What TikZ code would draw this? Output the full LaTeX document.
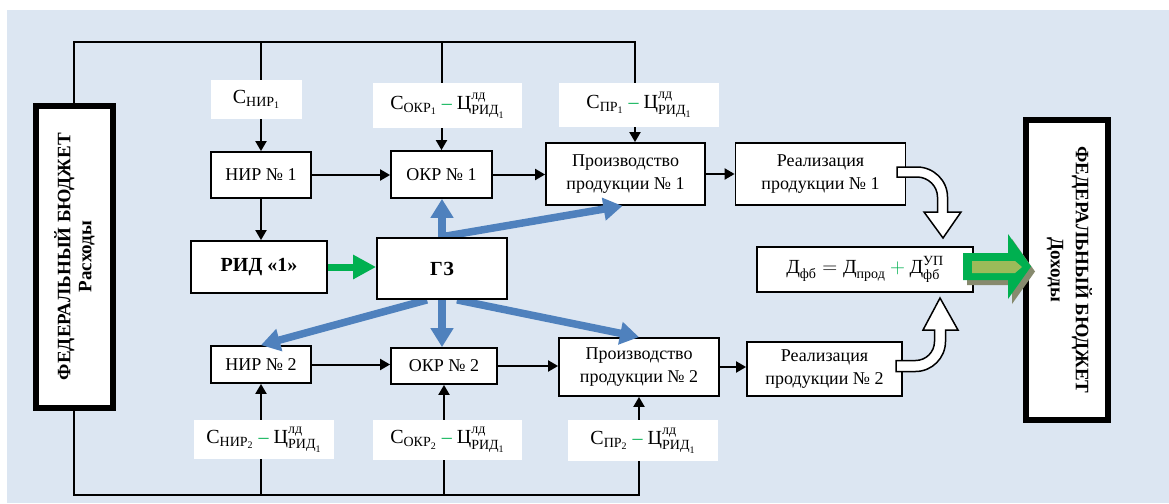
\documentclass[tikz,border=0pt]{standalone}
\usepackage{amsmath}
\usepackage{fontspec}
\setmainfont{Liberation Serif}
\usetikzlibrary{arrows.meta}
\definecolor{bgc}{RGB}{220,230,242}
\definecolor{gz}{RGB}{79,129,189}
\definecolor{gr}{RGB}{0,176,80}
\definecolor{olv}{RGB}{155,187,89}
\definecolor{shd}{RGB}{135,138,110}
\newcommand{\tx}[1]{\text{#1}}
\begin{document}
\begin{tikzpicture}[x=1pt,y=-1pt,
  box/.style={draw=black,line width=1.8pt,fill=white,inner sep=0pt,align=center,
    font=\fontsize{18}{23}\selectfont},
  bbox/.style={box,font=\fontsize{20}{24}\selectfont\bfseries},
  lbl/.style={fill=white,inner sep=0pt,align=center,font=\fontsize{20}{22}\selectfont},
  fb/.style={draw=black,line width=6pt,fill=white,inner sep=0pt},
  wire/.style={draw=black,line width=2pt},
  arr/.style={wire,-{Triangle[length=10pt,width=11pt]}},
  barr/.style={draw=gz,line width=7.5pt,-{Triangle[length=19pt,width=22pt]}},
  garr/.style={draw=gr,line width=7pt,-{Triangle[length=23pt,width=23pt]}},
  warr/.style={draw=black,line width=1.5pt,fill=white,line join=miter}
]
\useasboundingbox (0,0) rectangle (1169,503);
\fill[bgc] (7,10) rectangle (1169,503);

% budgets
\node[fb,minimum width=77pt,minimum height=302pt] (fbL) at (74.5,257) {};
\node[rotate=90,align=center,font=\fontsize{19}{21}\selectfont\bfseries] (fbLtxt) at (74.5,256.5) {ФЕДЕРАЛЬНЫЙ БЮДЖЕТ\\Расходы};
\node[fb,minimum width=82pt,minimum height=300pt] (fbR) at (1067,270) {};
\node[rotate=-90,align=center,font=\fontsize{19}{25}\selectfont\bfseries] (fbRtxt) at (1069.5,270) {ФЕДЕРАЛЬНЫЙ БЮДЖЕТ\\Доходы};

% boxes touched by blue arrows
\node[bbox,minimum width=130pt,minimum height=61pt] (bGZ) at (442,268.5) {ГЗ};
\node[box,minimum width=101pt,minimum height=47pt] (bOKR1) at (441.5,174.5) {ОКР № 1};
\node[box,minimum width=159pt,minimum height=62pt] (bPR1) at (625.5,174) {Производство\\продукции № 1};
\node[box,minimum width=100pt,minimum height=37pt] (bNIR2) at (261,364.5) {НИР № 2};
\node[box,minimum width=106pt,minimum height=36pt] (bOKR2) at (444,366) {ОКР № 2};
\node[box,minimum width=160pt,minimum height=58pt] (bPR2) at (639,367) {Производство\\продукции № 2};

% blue arrows
\draw[barr] (bGZ.north) -- (bGZ.north |- bOKR1.south);
\draw[barr] ([xshift=-2pt]bGZ.north) -- ([xshift=-3pt]bPR1.south);
\draw[barr] ([xshift=-15pt]bGZ.south) -- (bNIR2.north);
\draw[barr] (bGZ.south) -- (bGZ.south |- bOKR2.north);
\draw[barr] ([xshift=15pt]bGZ.south) -- (bPR2.north);

% boxes on top
\node[bbox,minimum width=130pt,minimum height=61pt] (bGZtop) at (bGZ) {ГЗ};
\node[box,minimum width=100pt,minimum height=46pt] (bNIR1) at (261,175) {НИР № 1};
\node[box,minimum width=170pt,minimum height=62pt] (bR1) at (820.5,174) {Реализация\\продукции № 1};
\node[bbox,minimum width=136pt,minimum height=52pt] (bRID) at (259,267) {РИД «1»};
\node[box,minimum width=216pt,minimum height=45pt,font=\fontsize{20}{22}\selectfont] (bF) at (865,269.5)
  {$\tx{Д}_{\tx{фб}} = \tx{Д}_{\tx{прод}} \mathbin{\color{gr}+} \tx{Д}^{\tx{УП}}_{\tx{фб}}$};
\node[box,minimum width=155pt,minimum height=54pt] (bR2) at (824.5,369) {Реализация\\продукции № 2};

% labels
\node[lbl,minimum width=91pt,minimum height=39pt] (lNIR1) at (256.5,99.5) {$\tx{С}_{\tx{НИР}_{\tx{1}}}$};
\node[lbl,minimum width=149pt,minimum height=45pt] (lOKR1) at (447.5,105.5)
  {$\tx{С}_{\tx{ОКР}_{\tx{1}}}$\ \textcolor{gr}{–}\ $\tx{Ц}^{\tx{лд}}_{\tx{РИД}_{\tx{1}}}$};
\node[lbl,minimum width=160pt,minimum height=44pt] (lPR1) at (639,105)
  {$\tx{С}_{\tx{ПР}_{\tx{1}}}$\ \textcolor{gr}{–}\ $\tx{Ц}^{\tx{лд}}_{\tx{РИД}_{\tx{1}}}$};
\node[lbl,minimum width=140pt,minimum height=39pt] (lNIR2) at (264,439.5)
  {$\tx{С}_{\tx{НИР}_{\tx{2}}}$ \textcolor{gr}{–} $\tx{Ц}^{\tx{лд}}_{\tx{РИД}_{\tx{1}}}$};
\node[lbl,minimum width=149pt,minimum height=40pt] (lOKR2) at (447.5,440)
  {$\tx{С}_{\tx{ОКР}_{\tx{2}}}$\ \textcolor{gr}{–}\ $\tx{Ц}^{\tx{лд}}_{\tx{РИД}_{\tx{1}}}$};
\node[lbl,minimum width=150pt,minimum height=41pt] (lPR2) at (643,440.5)
  {$\tx{С}_{\tx{ПР}_{\tx{2}}}$\ \textcolor{gr}{–}\ $\tx{Ц}^{\tx{лд}}_{\tx{РИД}_{\tx{1}}}$};

% wires
\coordinate (tl) at (74,42);
\coordinate (tr) at (635,42);
\coordinate (bl) at (74,495);
\coordinate (br) at (639,495);
\draw[wire] (fbL.north -| tl) -- (tl) -- (tr) -- (tr |- lPR1.north);
\draw[wire] (bNIR1.north |- tl) -- (bNIR1.north |- lNIR1.north);
\draw[wire] (bOKR1.north |- tl) -- (bOKR1.north |- lOKR1.north);
\draw[arr] (bNIR1.north |- lNIR1.south) -- (bNIR1.north);
\draw[arr] (bOKR1.north |- lOKR1.south) -- (bOKR1.north);
\draw[arr] (tr |- lPR1.south) -- (tr |- bPR1.north);

\draw[wire] (fbL.south -| bl) -- (bl) -- (br) -- (br |- lPR2.south);
\draw[wire] (bNIR2.south |- bl) -- (bNIR2.south |- lNIR2.south);
\draw[wire] (bOKR2.south |- bl) -- (bOKR2.south |- lOKR2.south);
\draw[arr] (bNIR2.south |- lNIR2.north) -- (bNIR2.south);
\draw[arr] (bOKR2.south |- lOKR2.north) -- (bOKR2.south);
\draw[arr] (br |- lPR2.north) -- (br |- bPR2.south);

\draw[arr] (bNIR1.east) -- (bNIR1.east -| bOKR1.west);
\draw[arr] (bOKR1.east) -- (bOKR1.east -| bPR1.west);
\draw[arr] (bPR1.east) -- (bPR1.east -| bR1.west);
\draw[arr] (bNIR1.south) -- (bNIR1.south |- bRID.north);
\draw[arr] (bNIR2.east) -- (bNIR2.east -| bOKR2.west);
\draw[arr] (bOKR2.east) -- (bOKR2.east -| bPR2.west);
\draw[arr] (bPR2.east) -- (bPR2.east -| bR2.west);

% green arrow RID -> GZ
\draw[garr] (bRID.east) -- (bRID.east -| bGZ.west);

% white curved block arrows
\draw[warr] (897,167) -- (917,167) .. controls (933.6,167) and (947.5,180.4) .. (947.5,197)
  -- (947.5,212) -- (961,212) -- (943,238) -- (924,212) -- (937.5,212) -- (937.5,197)
  .. controls (937.5,186) and (928,177) .. (917,177) -- (897,177) -- cycle;
\draw[warr] (896,371.5) -- (915.5,371.5) .. controls (932,371.5) and (945.5,358) .. (945.5,341.5)
  -- (945.5,330) -- (958,330) -- (940,298) -- (923,330) -- (934.5,330) -- (934.5,341.5)
  .. controls (934.5,352) and (926,360.5) .. (915.5,360.5) -- (896,360.5) -- cycle;

% green block arrow to revenues
\fill[shd,shift={(4,5)}] (963,253) -- (1008,253) -- (1008,234) -- (1031,266.5) -- (1008,299) -- (1008,280) -- (963,280) -- cycle;
\fill[gr] (963,253) -- (1008,253) -- (1008,234) -- (1031,266.5) -- (1008,299) -- (1008,280) -- (963,280) -- cycle;
\fill[olv] (972,261) -- (1015,261) -- (1022,267) -- (1015,273) -- (972,273) -- cycle;
\end{tikzpicture}
\end{document}
